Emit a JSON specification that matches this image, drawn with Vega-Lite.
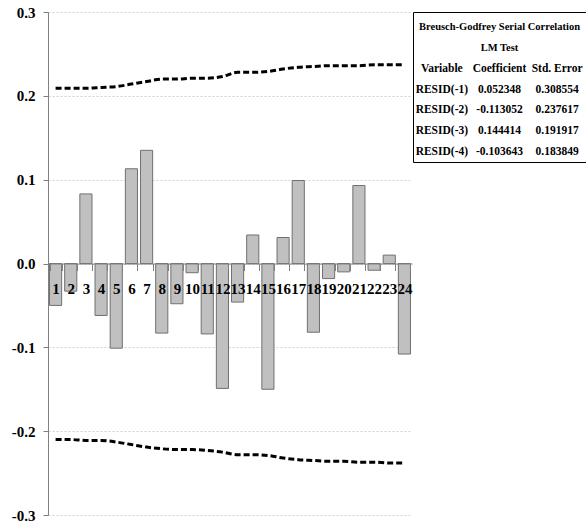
{
  "$schema": "https://vega.github.io/schema/vega-lite/v6.json",
  "background": "white",
  "padding": {"left": 11, "top": 5, "right": 0, "bottom": 0},
  "bounds": "flush",
  "spacing": 1,
  "config": {"view": {"stroke": null}},
  "datasets": {
    "resid": [
      {"obs": 1, "resid": -0.050, "upper": 0.209, "lower": -0.210},
      {"obs": 2, "resid": -0.033, "upper": 0.209, "lower": -0.210},
      {"obs": 3, "resid": 0.083, "upper": 0.209, "lower": -0.211},
      {"obs": 4, "resid": -0.062, "upper": 0.210, "lower": -0.211},
      {"obs": 5, "resid": -0.101, "upper": 0.211, "lower": -0.213},
      {"obs": 6, "resid": 0.113, "upper": 0.214, "lower": -0.216},
      {"obs": 7, "resid": 0.135, "upper": 0.217, "lower": -0.219},
      {"obs": 8, "resid": -0.083, "upper": 0.220, "lower": -0.221},
      {"obs": 9, "resid": -0.048, "upper": 0.220, "lower": -0.222},
      {"obs": 10, "resid": -0.011, "upper": 0.221, "lower": -0.222},
      {"obs": 11, "resid": -0.084, "upper": 0.221, "lower": -0.223},
      {"obs": 12, "resid": -0.149, "upper": 0.223, "lower": -0.225},
      {"obs": 13, "resid": -0.046, "upper": 0.228, "lower": -0.228},
      {"obs": 14, "resid": 0.034, "upper": 0.228, "lower": -0.228},
      {"obs": 15, "resid": -0.150, "upper": 0.229, "lower": -0.229},
      {"obs": 16, "resid": 0.031, "upper": 0.232, "lower": -0.232},
      {"obs": 17, "resid": 0.099, "upper": 0.234, "lower": -0.234},
      {"obs": 18, "resid": -0.082, "upper": 0.235, "lower": -0.235},
      {"obs": 19, "resid": -0.018, "upper": 0.236, "lower": -0.236},
      {"obs": 20, "resid": -0.010, "upper": 0.236, "lower": -0.236},
      {"obs": 21, "resid": 0.093, "upper": 0.236, "lower": -0.237},
      {"obs": 22, "resid": -0.008, "upper": 0.237, "lower": -0.237},
      {"obs": 23, "resid": 0.010, "upper": 0.237, "lower": -0.238},
      {"obs": 24, "resid": -0.108, "upper": 0.237, "lower": -0.238}
    ],
    "table": [
      {"row": 1, "col": 2, "text": "Breusch-Godfrey Serial Correlation"},
      {"row": 2, "col": 2, "text": "LM Test"},
      {"row": 3, "col": 1, "text": "Variable"},
      {"row": 3, "col": 2, "text": "Coefficient"},
      {"row": 3, "col": 3, "text": "Std. Error"},
      {"row": 4, "col": 1, "text": "RESID(-1)"},
      {"row": 4, "col": 2, "text": "0.052348"},
      {"row": 4, "col": 3, "text": "0.308554"},
      {"row": 5, "col": 1, "text": "RESID(-2)"},
      {"row": 5, "col": 2, "text": "-0.113052"},
      {"row": 5, "col": 3, "text": "0.237617"},
      {"row": 6, "col": 1, "text": "RESID(-3)"},
      {"row": 6, "col": 2, "text": "0.144414"},
      {"row": 6, "col": 3, "text": "0.191917"},
      {"row": 7, "col": 1, "text": "RESID(-4)"},
      {"row": 7, "col": 2, "text": "-0.103643"},
      {"row": 7, "col": 3, "text": "0.183849"}
    ]
  },
  "hconcat": [
    {
      "width": 364,
      "height": 503,
      "data": {"name": "resid"},
      "encoding": {
        "x": {
          "field": "obs",
          "type": "ordinal",
          "scale": {"paddingInner": 0.2, "paddingOuter": 0.1},
          "axis": {
            "orient": "bottom",
            "offset": -251.5,
            "title": null,
            "labelAngle": 0,
            "labelFont": "Liberation Serif",
            "labelFontWeight": "bold",
            "labelFontSize": 15,
            "labelColor": "black",
            "labelPadding": 11,
            "tickSize": 7,
            "tickBand": "extent",
            "tickColor": "#808080",
            "domainColor": "#808080",
            "grid": false,
            "zindex": 1
          }
        }
      },
      "layer": [
        {
          "mark": {"type": "bar", "color": "#c0c0c0", "stroke": "#707070", "strokeWidth": 1},
          "encoding": {
            "y": {
              "field": "resid",
              "type": "quantitative",
              "scale": {"domain": [-0.3, 0.3], "nice": false, "zero": false},
              "axis": {
                "title": null,
                "values": [-0.3, -0.2, -0.1, 0, 0.1, 0.2, 0.3],
                "labelExpr": "replace(format(datum.value, '.1f'), '\u2212', '-')",
                "labelFont": "Liberation Serif",
                "labelFontWeight": "bold",
                "labelFontSize": 15,
                "labelColor": "black",
                "labelPadding": 8,
                "tickSize": 5,
                "tickColor": "#808080",
                "domainColor": "#808080",
                "grid": true,
                "gridColor": "#d0d0d0",
                "gridDash": [2, 2],
                "gridWidth": 1
              }
            }
          }
        },
        {
          "mark": {"type": "line", "color": "black", "strokeWidth": 3, "strokeDash": [6, 3], "interpolate": "monotone"},
          "encoding": {"y": {"field": "upper", "type": "quantitative"}}
        },
        {
          "mark": {"type": "line", "color": "black", "strokeWidth": 3, "strokeDash": [6, 3], "interpolate": "monotone"},
          "encoding": {"y": {"field": "lower", "type": "quantitative"}}
        }
      ]
    },
    {
      "width": 173,
      "height": 150,
      "view": {"stroke": "black", "strokeWidth": 1, "fill": "white"},
      "data": {"name": "table"},
      "encoding": {
        "x": {"field": "col", "type": "quantitative", "scale": {"domain": [0.5, 3.5]}, "axis": null},
        "y": {"field": "row", "type": "quantitative", "scale": {"domain": [0.28, 7.48], "reverse": true}, "axis": null},
        "text": {"field": "text", "type": "nominal"}
      },
      "layer": [
        {
          "transform": [{"filter": "datum.row <= 2"}],
          "mark": {"type": "text", "font": "Liberation Serif", "fontWeight": "bold", "fontSize": 10.5, "color": "black", "baseline": "middle", "align": "center"}
        },
        {
          "transform": [{"filter": "datum.row > 2"}],
          "mark": {"type": "text", "font": "Liberation Serif", "fontWeight": "bold", "fontSize": 11.5, "color": "black", "baseline": "middle", "align": "center"}
        }
      ]
    }
  ]
}
